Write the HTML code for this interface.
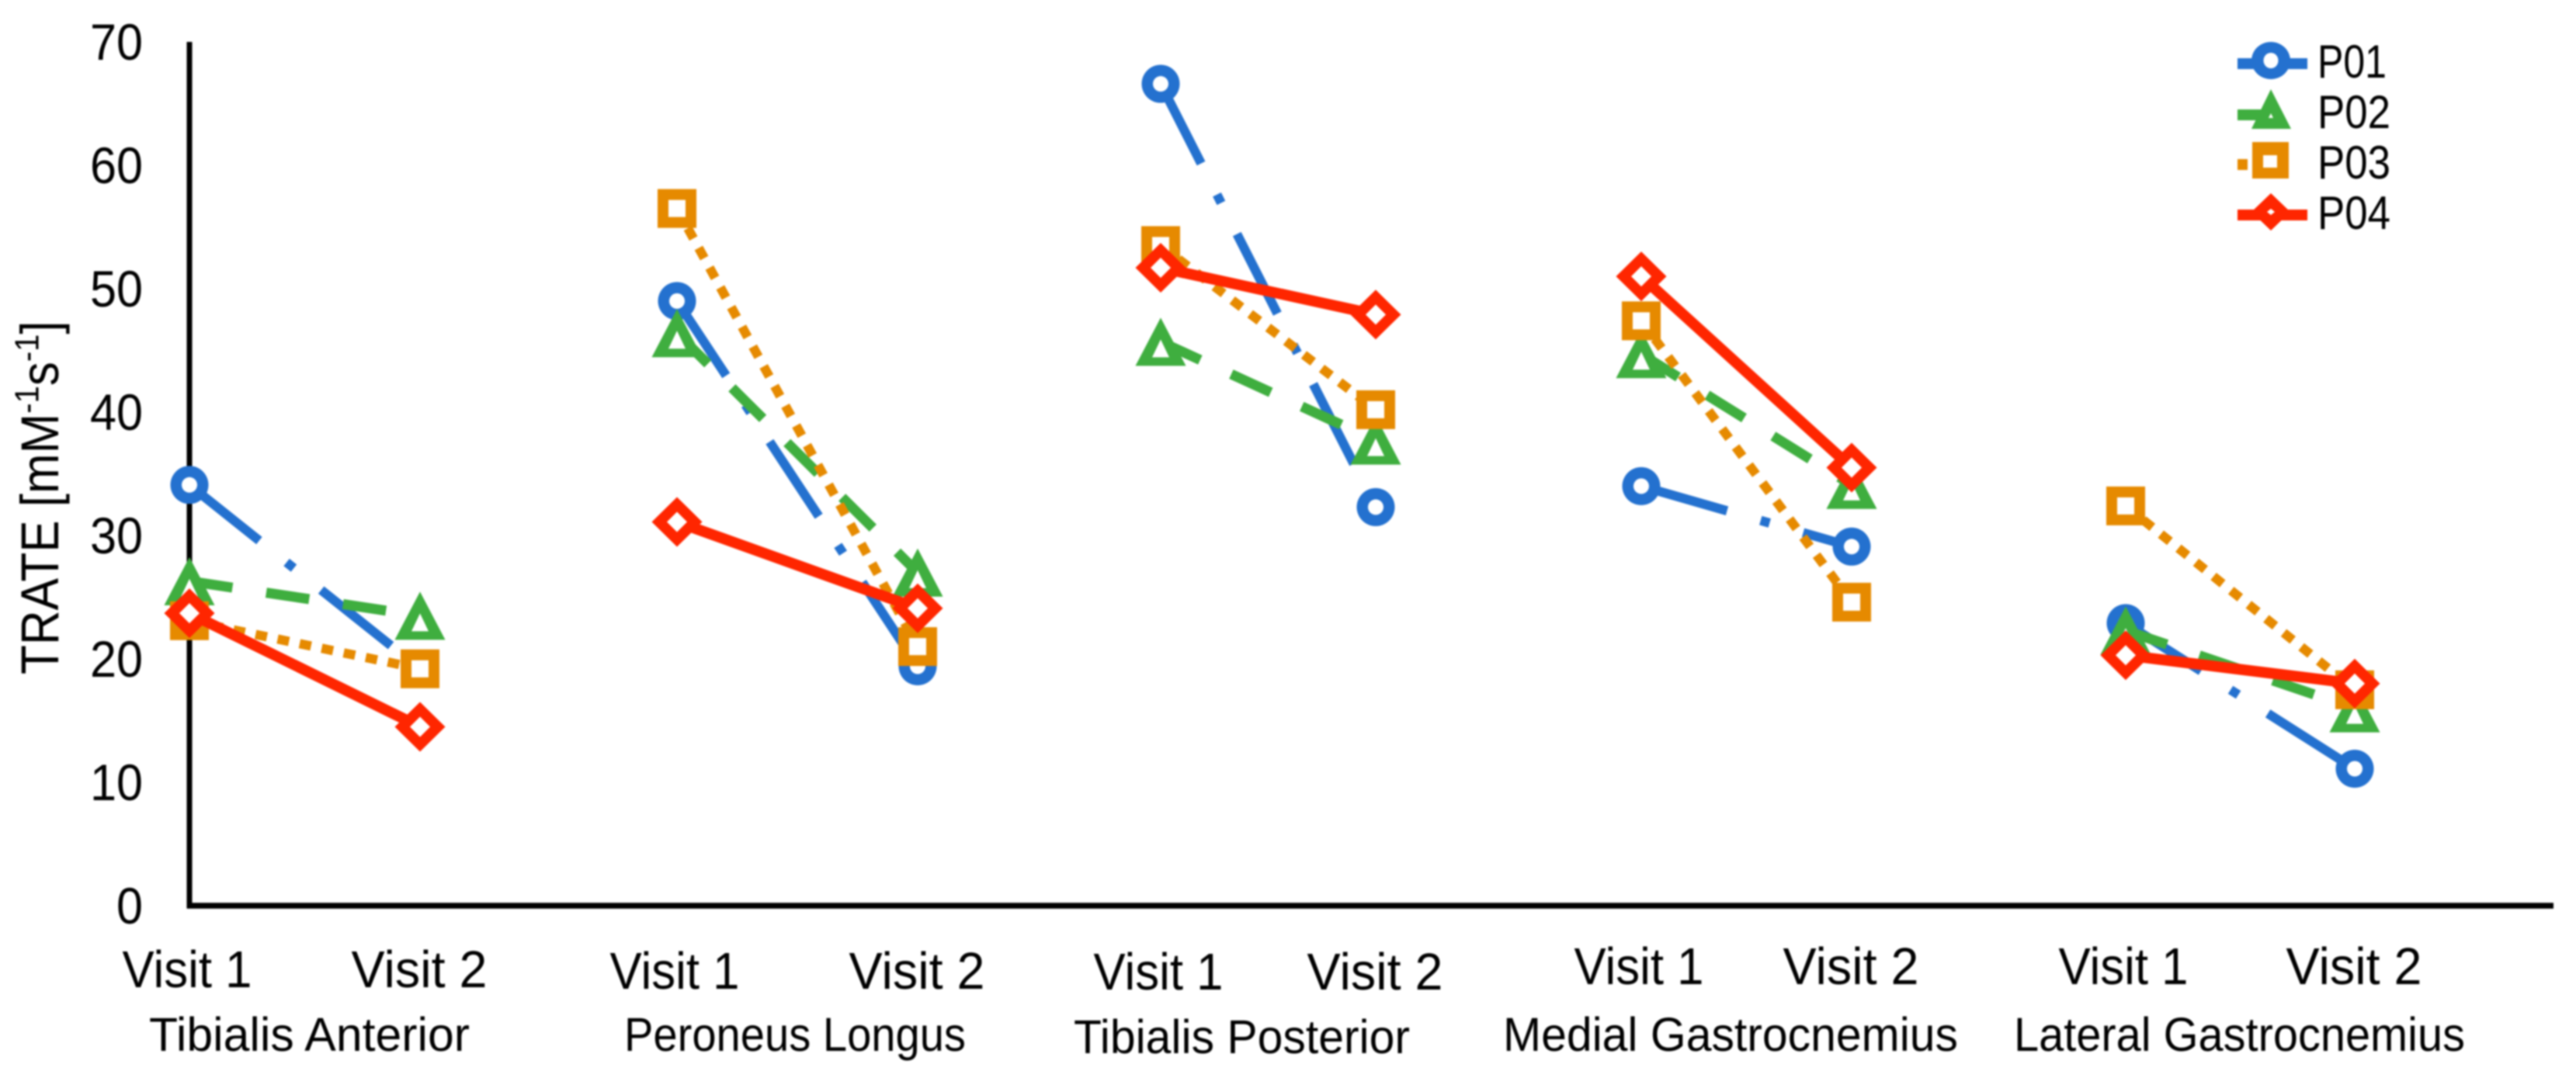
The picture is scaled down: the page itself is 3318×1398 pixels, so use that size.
<!DOCTYPE html>
<html lang="en">
<head>
<meta charset="utf-8">
<title>TRATE by muscle and visit</title>
<style>
  html, body { margin: 0; padding: 0; background: #ffffff; }
  body { width: 3318px; height: 1398px; overflow: hidden; }
  svg { display: block; filter: blur(1px); font-family: "Liberation Sans", sans-serif; }
  text { fill: #000000; }
</style>
</head>
<body>
<svg id="chart" xmlns="http://www.w3.org/2000/svg" width="3318" height="1398" viewBox="0 0 3318 1398">
  <rect x="0" y="0" width="3318" height="1398" fill="#ffffff"/>

  <text transform="translate(75,869) rotate(-90) scale(1,1.1)" font-size="62">TRATE [mM<tspan font-size="40" dy="-23">-1</tspan><tspan dy="23">s</tspan><tspan font-size="40" dy="-23">-1</tspan><tspan dy="23">]</tspan></text>

  <text x="192" y="1354" font-size="61" textLength="413" lengthAdjust="spacingAndGlyphs">Tibialis Anterior</text>
  <text x="804" y="1354" font-size="61" textLength="440" lengthAdjust="spacingAndGlyphs">Peroneus Longus</text>
  <text x="1383" y="1357" font-size="61" textLength="433" lengthAdjust="spacingAndGlyphs">Tibialis Posterior</text>
  <text x="1936" y="1354" font-size="61" textLength="586" lengthAdjust="spacingAndGlyphs">Medial Gastrocnemius</text>
  <text x="2594" y="1354" font-size="61" textLength="581" lengthAdjust="spacingAndGlyphs">Lateral Gastrocnemius</text>

  <g id="axes"></g>
  <g id="series"></g>

  <g>
    <g>
      <line x1="2882" y1="82" x2="2972" y2="82" stroke="#2471cf" stroke-width="14"/>
      <ellipse cx="2925" cy="78" rx="25" ry="24" fill="#2471cf"/>
      <ellipse cx="2925" cy="78" rx="9.5" ry="10" fill="#ffffff"/>
      <text x="2985" y="100" font-size="60" textLength="89" lengthAdjust="spacingAndGlyphs">P01</text>
    </g>
    <g>
      <line x1="2882" y1="148" x2="2925" y2="148" stroke="#3fae3f" stroke-width="14"/>
      <path fill="#3fae3f" d="M2925,115L2951,166L2900,166Z"/>
      <path fill="#ffffff" d="M2925,146L2928,152L2922,152Z"/>
      <text x="2985" y="165" font-size="60" textLength="94" lengthAdjust="spacingAndGlyphs">P02</text>
    </g>
    <g>
      <line x1="2882" y1="212" x2="2972" y2="212" stroke="#e68a00" stroke-width="14" stroke-dasharray="13,11,22,15,4,30"/>
      <path fill="#e68a00" d="M2901,183H2948V230H2901Z"/>
      <rect x="2915" y="200" width="18" height="16" fill="#ffffff"/>
      <text x="2985" y="230" font-size="60" textLength="94" lengthAdjust="spacingAndGlyphs">P03</text>
    </g>
    <g>
      <line x1="2882" y1="277" x2="2972" y2="277" stroke="#ff2600" stroke-width="14"/>
      <path fill="#ff2600" d="M2925,249L2950,273L2925,297L2900,273Z"/>
      <path fill="#ffffff" d="M2925,269L2920,273L2925,277L2930,273Z"/>
      <text x="2985" y="295" font-size="60" textLength="94" lengthAdjust="spacingAndGlyphs">P04</text>
    </g>
  </g>
</svg>

<script>
const yTickLabels = [0, 10, 20, 30, 40, 50, 60, 70];
const visitLabels = ['Visit 1', 'Visit 2', 'Visit 1', 'Visit 2', 'Visit 1', 'Visit 2', 'Visit 1', 'Visit 2', 'Visit 1', 'Visit 2'];
const p01Values = [34.1, 19.2, 49.0, 19.4, 66.6, 32.3, 34.0, 29.1, 22.9, 11.1];
const p02Values = [26.3, 23.5, 46.4, 27.0, 45.7, 37.7, 44.7, 34.1, 22.3, 16.0];
const p03Values = [23.1, 19.2, 56.5, 21.0, 53.5, 40.2, 47.4, 24.6, 32.4, 17.5];
const p04Values = [23.7, 14.5, 31.1, 24.1, 51.7, 47.9, 51.0, 35.5, 20.3, 18.0];

const SVG_NS = 'http://www.w3.org/2000/svg';
const axesLayer = document.getElementById('axes');
const seriesLayer = document.getElementById('series');

function yScale(value) {
  return 1167 - value * 15.9;
}

function xScale(index) {
  const layout = [244, 541, 872, 1182, 1495, 1772, 2114, 2385, 2738, 3033];
  return layout[index];
}

function visitBaseline(index) {
  const layout = [1272, 1274, 1275, 1268, 1268];
  return layout[Math.floor(index / 2)];
}

function make(tag, attrs, parent) {
  const el = document.createElementNS(SVG_NS, tag);
  Object.keys(attrs).forEach(function (k) { el.setAttribute(k, attrs[k]); });
  parent.appendChild(el);
  return el;
}

const yAxisLine = make('line', { x1: 244, y1: yScale(70), x2: 244, y2: yScale(0) + 3.5, stroke: '#000', 'stroke-width': 7 }, axesLayer);



const xAxisLine = make('line', { x1: 241, y1: yScale(0), x2: 3289, y2: yScale(0), stroke: '#000', 'stroke-width': 7.5 }, axesLayer);



yTickLabels.forEach(function (tick) {
  const text = String(tick);
  const label = make('text', {
    x: 184,
    y: yScale(tick) + 23,
    'text-anchor': 'end',
    'font-size': 66,
    textLength: text.length * 34,
    lengthAdjust: 'spacingAndGlyphs'
  }, axesLayer);
  label.textContent = text;
  
  
});

visitLabels.forEach(function (text, i) {
  const label = make('text', {
    x: xScale(i) - (i % 2 === 0 ? 3 : 1),
    y: visitBaseline(i),
    'text-anchor': 'middle',
    'font-size': 67,
    textLength: i % 2 === 0 ? 167 : 175,
    lengthAdjust: 'spacingAndGlyphs'
  }, axesLayer);
  label.textContent = text;
  
  
});

function ellipseOutline(cx, cy, r) {
  return 'M' + (cx - r) + ',' + cy + 'a' + r + ',' + r + ' 0 1,0 ' + (2 * r) + ',0a' + r + ',' + r + ' 0 1,0 ' + (-2 * r) + ',0Z';
}

function circleMarker(cx, cy) {
  return { outer: ellipseOutline(cx, cy, 24.5), hole: ellipseOutline(cx, cy, 10) };
}

function triangleMarker(cx, cy) {
  return {
    outer: 'M' + cx + ',' + (cy - 31) + 'L' + (cx + 32.5) + ',' + (cy + 31) + 'L' + (cx - 32.5) + ',' + (cy + 31) + 'Z',
    hole: 'M' + cx + ',' + (cy - 3) + 'L' + (cx + 11) + ',' + (cy + 20) + 'L' + (cx - 11) + ',' + (cy + 20) + 'Z'
  };
}

function squareMarker(cx, cy) {
  return {
    outer: 'M' + (cx - 25) + ',' + (cy - 25) + 'H' + (cx + 25) + 'V' + (cy + 25) + 'H' + (cx - 25) + 'Z',
    hole: 'M' + (cx - 11) + ',' + (cy - 11) + 'V' + (cy + 11) + 'H' + (cx + 11) + 'V' + (cy - 11) + 'Z'
  };
}

function diamondMarker(cx, cy) {
  return {
    outer: 'M' + cx + ',' + (cy - 32) + 'L' + (cx + 32.5) + ',' + cy + 'L' + cx + ',' + (cy + 32) + 'L' + (cx - 32.5) + ',' + cy + 'Z',
    hole: 'M' + cx + ',' + (cy - 13) + 'L' + (cx - 13) + ',' + cy + 'L' + cx + ',' + (cy + 13) + 'L' + (cx + 13) + ',' + cy + 'Z'
  };
}

function drawSeries(name, values, color, width, dash, markerFn) {
  const group = make('g', {}, seriesLayer);
  
  
  for (let i = 0; i + 1 < values.length; i += 2) {
    const segment = make('line', {
      x1: xScale(i), y1: yScale(values[i]),
      x2: xScale(i + 1), y2: yScale(values[i + 1]),
      stroke: color, 'stroke-width': width, 'stroke-dasharray': dash
    }, group);
    
    
  }
  values.forEach(function (value, i) {
    const shape = markerFn(xScale(i), yScale(value));
    const marker = make('path', { d: shape.outer, fill: color }, group);
    
    
    const hole = make('path', { d: shape.hole, fill: '#ffffff' }, group);
    
    
  });
}

drawSeries('p01', p01Values, '#2471cf', 12, '115,45,12,45', circleMarker);
drawSeries('p02', p02Values, '#3fae3f', 13, '56,44', triangleMarker);
drawSeries('p03', p03Values, '#e68a00', 12, '15,14', squareMarker);
drawSeries('p04', p04Values, '#ff2600', 14, 'none', diamondMarker);
</script>
</body>
</html>
